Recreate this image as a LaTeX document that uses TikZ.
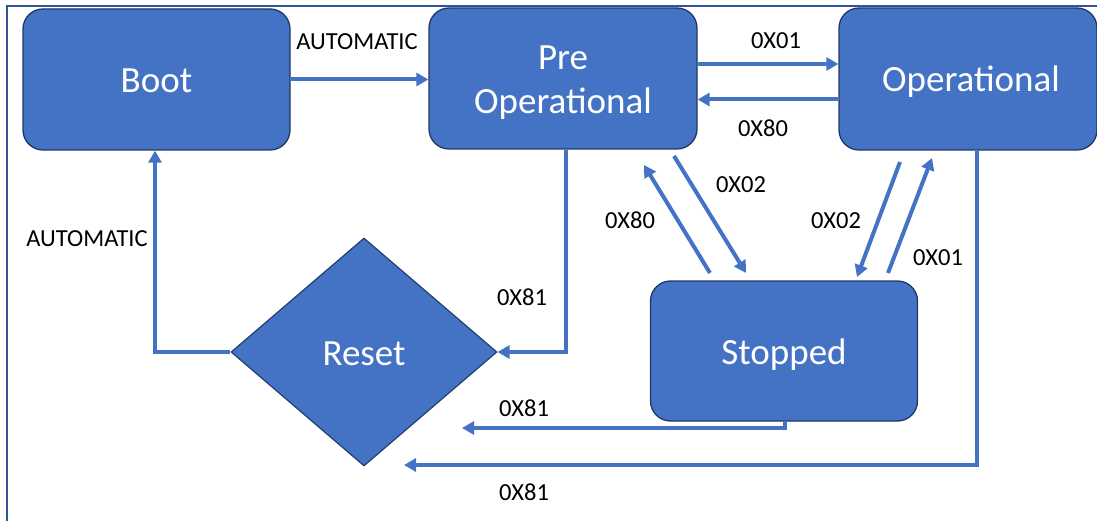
\documentclass[tikz,border=0pt]{standalone}
\usepackage{fontspec}
\setmainfont{Carlito}
\usetikzlibrary{arrows.meta,shapes.geometric,calc}
\definecolor{boxblue}{HTML}{4472C4}
\definecolor{boxedge}{HTML}{1F3864}
\definecolor{framec}{HTML}{2F5597}
\newcommand\dropby[2]{\raisebox{-#1}[\height][\depth]{#2}}
\begin{document}
\begin{tikzpicture}[x=1pt,y=-1pt,
  state/.style={draw=boxedge,line width=1.3pt,fill=boxblue,rounded corners=20pt,
    text=white,font=\fontsize{37}{44}\selectfont,align=center,inner sep=0pt},
  resetshape/.style={diamond,draw=boxedge,line width=1.1pt,fill=boxblue,
    text=white,font=\fontsize{37}{44}\selectfont,inner sep=0pt,
    minimum width=266pt,minimum height=228pt},
  arr/.style={draw=boxblue,line width=4pt,-{Triangle[length=12pt,width=13pt]}},
  lbl/.style={font=\fontsize{24.5}{28}\selectfont,text=black,inner sep=0pt},
  frameline/.style={draw=framec,line width=2.2pt}]
\useasboundingbox (0,0) rectangle (1097,521);
\clip (0,0) rectangle (1097,521);
\draw[frameline] (7,530) -- (7,6) -- (1100,6);
% states
\node[state,minimum width=267pt,minimum height=141pt] (boot) at (156.5,79.5) {\dropby{1.5pt}{Boot}};
\node[state,minimum width=268pt,minimum height=141pt] (pre) at (563,78.5)
  {\dropby{4pt}{\begin{tabular}{@{}c@{}}Pre\\Operational\end{tabular}}};
\node[state,minimum width=258pt,minimum height=142pt] (op) at (968,79) {\hspace*{6pt}\dropby{3pt}{Operational}};
\node[state,minimum width=267pt,minimum height=140pt] (stop) at (784,351) {\dropby{4pt}{Stopped}};
\node[resetshape] (reset) at (364,352) {\dropby{1.5pt}{Reset}};
% helper coordinates
\coordinate (p1) at ([yshift=14.5pt]pre.east);
\coordinate (p2) at ([yshift=-20.5pt]op.west);
\coordinate (d1s) at (674,156);
\coordinate (d1e) at (746,273);
\coordinate (d2s) at (710,273);
\coordinate (d2e) at (644,165);
\coordinate (d3s) at (900,162);
\coordinate (d3e) at (857,277);
\coordinate (d4s) at (888,273);
\coordinate (d4e) at (932,158);
\coordinate (r1) at (462,428);
\coordinate (r2) at (404,465);
% connectors
\draw[arr] (boot.east) -- (boot.east -| pre.west);
\draw[arr] (p1) -- (p1 -| op.west);
\draw[arr] (p2) -- (p2 -| pre.east);
\draw[arr] ([xshift=3pt]pre.south) |- (reset.east);
\draw[arr] (reset.west) -| ([xshift=-1.5pt]boot.south);
\draw[arr] (d1s) -- (d1e);
\draw[arr] (d2s) -- (d2e);
\draw[arr] (d3s) -- (d3e);
\draw[arr] (d4s) -- (d4e);
\draw[arr] ([xshift=1pt]stop.south) |- (r1);
\draw[arr] ([xshift=8.5pt]op.south) |- (r2);
% labels
\node[lbl] (l1) at (357,42) {AUTOMATIC};
\node[lbl] (l2) at (776,41) {0X01};
\node[lbl] (l3) at (763,128) {0X80};
\node[lbl] (l4) at (522,297) {0X81};
\node[lbl] (l5) at (87,239) {AUTOMATIC};
\node[lbl] (l6) at (741,185) {0X02};
\node[lbl] (l7) at (630,220) {0X80};
\node[lbl] (l8) at (836,221) {0X02};
\node[lbl] (l9) at (938,258) {0X01};
\node[lbl] (l10) at (524,408) {0X81};
\node[lbl] (l11) at (524,492) {0X81};
\end{tikzpicture}
\end{document}
